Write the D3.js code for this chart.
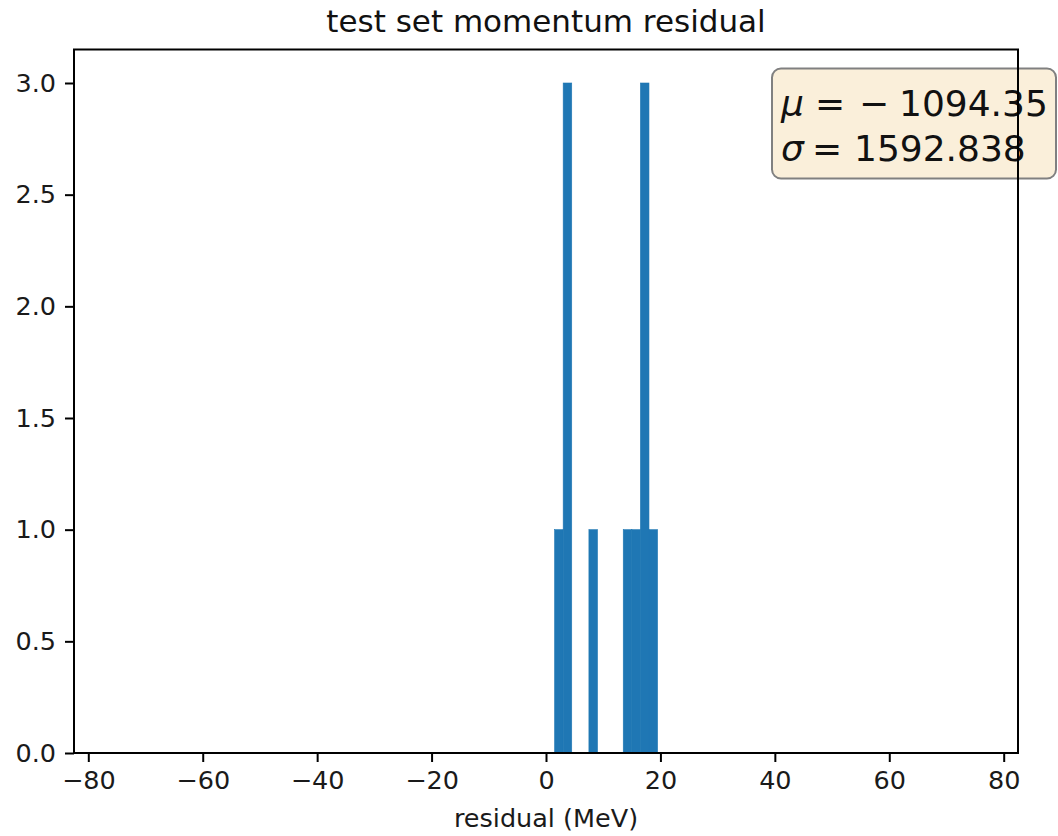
<!DOCTYPE html>
<html>
<head>
<meta charset="utf-8">
<script src="https://cdn.jsdelivr.net/npm/d3@7"></script>
<style>
  body { margin: 0; background: #fff; }
  text { font-family: "DejaVu Sans", sans-serif; }
</style>
</head>
<body>
<svg width="1058" height="836"></svg>
<script>
// histogram bins that have counts (bin width 1.5 over -75..75)
const binStarts = [1.5, 3, 7.5, 13.5, 15, 16.5, 18];
const counts = [1, 3, 1, 1, 1, 3, 1];
const binWidth = 1.5;

const xTicks = [-80, -60, -40, -20, 0, 20, 40, 60, 80];
const yTicks = [0, 0.5, 1.0, 1.5, 2.0, 2.5, 3.0];

const statLines = [
  { sym: "μ", sign: "−", value: "1094.35" },
  { sym: "σ", sign: "", value: "1592.838" }
];

const bins = binStarts.map((x0, i) => ({ x0, x1: x0 + binWidth, n: counts[i] }));

const width = 1058;
const height = 836;
const margin = { top: 49.5, right: 40, bottom: 83, left: 74 };

const x = d3.scaleLinear()
  .domain([-82.5, 82.5])
  .range([margin.left, width - margin.right]);

const y = d3.scaleLinear()
  .domain([0, 3.15])
  .range([height - margin.bottom, margin.top]);

const svg = d3.select("svg");

// bars
svg.append("g")
  .selectAll("rect")
  .data(bins)
  .join("rect")
  .attr("x", d => x(d.x0))
  .attr("width", d => x(d.x1) - x(d.x0))
  .attr("y", d => y(d.n))
  .attr("height", d => y(0) - y(d.n))
  .attr("fill", "#1f77b4")
  .attr("stroke", "#1f77b4")
  .attr("stroke-width", 0.6);

const fmtX = d => String(d).replace("-", "−");

const xAxis = svg.append("g")
  .attr("transform", `translate(0,${y(0)})`)
  .call(d3.axisBottom(x).tickValues(xTicks).tickFormat(fmtX).tickSize(9).tickPadding(9));

const yAxis = svg.append("g")
  .attr("transform", `translate(${x.range()[0]},0)`)
  .call(d3.axisLeft(y).tickValues(yTicks).tickFormat(d3.format(".1f")).tickSize(9).tickPadding(9));

[xAxis, yAxis].forEach(g => {
  g.select(".domain").remove();
  g.selectAll(".tick line").attr("stroke", "#000").attr("stroke-width", 2);
  g.selectAll(".tick text").attr("fill", "#1a1a1a").style("font-size", "25.5px");
});

// stats box
const box = svg.append("g");
box.append("rect")
  .attr("x", 772).attr("y", 68.5)
  .attr("width", 284).attr("height", 110)
  .attr("rx", 9).attr("ry", 9)
  .attr("fill", "#faefda")
  .attr("stroke", "#808080")
  .attr("stroke-width", 2);

// spines
svg.append("rect")
  .attr("x", x.range()[0])
  .attr("y", y.range()[1])
  .attr("width", x.range()[1] - x.range()[0])
  .attr("height", y.range()[0] - y.range()[1])
  .attr("fill", "none")
  .attr("stroke", "#000")
  .attr("stroke-width", 2);

// mathtext-like layout: symbol, "=", optional sign, number
const eqX = [815, 812];
const numX = [899, 854];
const statText = box.selectAll("g.stat")
  .data(statLines)
  .join("g")
  .attr("class", "stat")
  .attr("transform", (d, i) => `translate(0,${116 + i * 45})`)
  .style("font-size", "36px")
  .attr("fill", "#111");

statText.append("text")
  .attr("x", 781)
  .style("font-style", "italic")
  .text(d => d.sym);
statText.append("text")
  .attr("x", (d, i) => eqX[i])
  .text("=");
statText.filter(d => d.sign).append("text")
  .attr("x", 859)
  .text(d => d.sign);
statText.append("text")
  .attr("x", (d, i) => numX[i])
  .text(d => d.value);

// title and label
svg.append("text")
  .attr("x", (x.range()[0] + x.range()[1]) / 2)
  .attr("y", 32)
  .attr("text-anchor", "middle")
  .attr("fill", "#111")
  .style("font-size", "31px")
  .text("test set momentum residual");

svg.append("text")
  .attr("x", (x.range()[0] + x.range()[1]) / 2)
  .attr("y", 827)
  .attr("text-anchor", "middle")
  .attr("fill", "#1a1a1a")
  .style("font-size", "25.5px")
  .text("residual (MeV)");
</script>
</body>
</html>
